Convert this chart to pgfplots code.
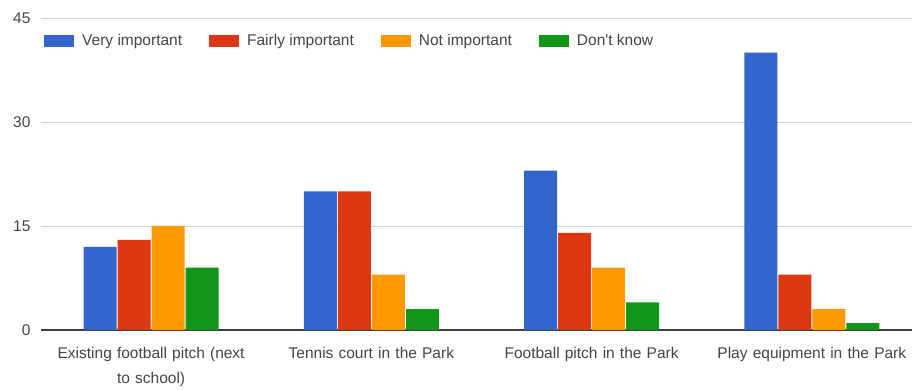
\documentclass[border=0pt]{standalone}
\usepackage{fontspec}
\setmainfont{Liberation Sans}
\usepackage{pgfplots}
\pgfplotsset{compat=1.18}
\definecolor{cblue}{HTML}{3366CC}
\definecolor{cred}{HTML}{DC3912}
\definecolor{corange}{HTML}{FF9900}
\definecolor{cgreen}{HTML}{109618}
\definecolor{txt}{HTML}{444444}
\begin{document}
\begin{tikzpicture}
\begin{axis}[
  scale only axis,
  width=871pt, height=312pt,
  ybar=1pt, bar width=33pt,
  xmin=-0.5, xmax=3.455,
  ymin=0, ymax=45,
  ytick={0,15,30,45},
  xtick={0,1,2,3},
  xticklabels={{Existing football pitch (next\\to school)},{Tennis court in the Park},{Football pitch in the Park},{Play equipment in the Park}},
  xticklabel style={align=center, text width=194pt, inner xsep=0pt, font=\fontsize{15.5}{24.5}\selectfont, text=txt, yshift=-14pt},
  yticklabel style={font=\fontsize{15.5}{17}\selectfont, text=txt, xshift=-7pt},
  /pgf/number format/assume math mode=true,
  ymajorgrids, grid style={draw=black!18, line width=0.9pt},
  major tick length=0pt,
  axis x line*=bottom,
  axis y line*=left,
  x axis line style={draw=black!75, line width=1.3pt, -},
  y axis line style={draw=none},
  ytick style={draw=none}, xtick style={draw=none},
  legend style={at={(0,1)}, anchor=north west, yshift=-12pt, draw=none, fill=none,
    legend columns=4, font=\fontsize{15.5}{17}\selectfont, text=txt,
    /tikz/every even column/.append style={column sep=25pt}},
  legend image code/.code={\fill[#1] (0pt,-6pt) rectangle (30pt,6pt); \path (36pt,0pt);},
  every axis plot/.append style={draw=none},
  clip=false,
]
\addplot[fill=cblue] coordinates {(0,12) (1,20) (2,23) (3,40)};
\addplot[fill=cred] coordinates {(0,13) (1,20) (2,14) (3,8)};
\addplot[fill=corange] coordinates {(0,15) (1,8) (2,9) (3,3)};
\addplot[fill=cgreen] coordinates {(0,9) (1,3) (2,4) (3,1)};
\legend{Very important, Fairly important, Not important, Don\textquotesingle t know}
\path (rel axis cs:0,0) ++(-41pt,-60pt) (rel axis cs:1,1) ++(2pt,18pt);
\end{axis}
\end{tikzpicture}
\end{document}
